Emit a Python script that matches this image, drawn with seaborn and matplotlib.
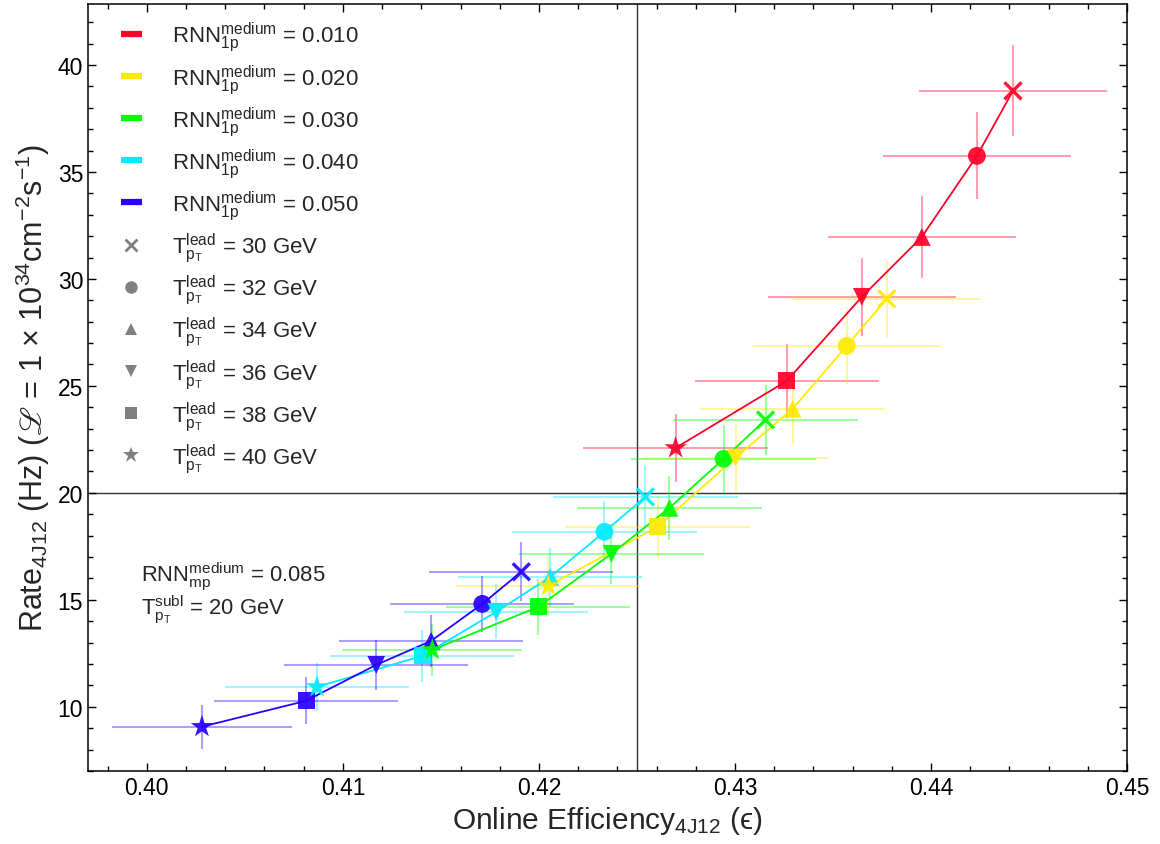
import numpy as np
import pandas as pd
import matplotlib
matplotlib.use("Agg")
import matplotlib.pyplot as plt
from matplotlib.lines import Line2D
from matplotlib.ticker import MultipleLocator, FormatStrFormatter
import seaborn as sns

# ---- data -------------------------------------------------------------
rnn_cuts = ["0.010", "0.020", "0.030", "0.040", "0.050"]
lead_pt = [30, 32, 34, 36, 38, 40]

eff_010 = [0.44418, 0.44234, 0.43953, 0.43647, 0.43264, 0.42697]
eff_020 = [0.43774, 0.43570, 0.43294, 0.43003, 0.42605, 0.42048]
eff_030 = [0.43156, 0.42942, 0.42666, 0.42370, 0.41997, 0.41456]
eff_040 = [0.42543, 0.42334, 0.42058, 0.41782, 0.41404, 0.40868]
eff_050 = [0.41910, 0.41711, 0.41450, 0.41170, 0.40812, 0.40281]

rate_010 = [38.79, 35.75, 31.96, 29.16, 25.23, 22.10]
rate_020 = [29.07, 26.87, 23.93, 21.64, 18.41, 15.65]
rate_030 = [23.41, 21.59, 19.30, 17.15, 14.67, 12.66]
rate_040 = [19.81, 18.18, 16.07, 14.44, 12.38, 10.93]
rate_050 = [16.31, 14.81, 13.08, 11.96, 10.28, 9.07]

eff_err_010 = [0.0048, 0.0048, 0.0048, 0.0048, 0.0047, 0.0047]
eff_err_020 = [0.0048, 0.0048, 0.0047, 0.0047, 0.0047, 0.0047]
eff_err_030 = [0.0047, 0.0047, 0.0047, 0.0047, 0.0047, 0.0046]
eff_err_040 = [0.0047, 0.0047, 0.0047, 0.0047, 0.0047, 0.0047]
eff_err_050 = [0.0047, 0.0047, 0.0047, 0.0047, 0.0047, 0.0046]

rate_err_010 = [2.12, 2.03, 1.92, 1.84, 1.71, 1.60]
rate_err_020 = [1.83, 1.76, 1.66, 1.58, 1.46, 1.35]
rate_err_030 = [1.65, 1.58, 1.49, 1.41, 1.30, 1.21]
rate_err_040 = [1.51, 1.45, 1.36, 1.29, 1.20, 1.12]
rate_err_050 = [1.37, 1.31, 1.23, 1.18, 1.09, 1.02]

effs = [eff_010, eff_020, eff_030, eff_040, eff_050]
rates = [rate_010, rate_020, rate_030, rate_040, rate_050]
eff_errs = [eff_err_010, eff_err_020, eff_err_030, eff_err_040, eff_err_050]
rate_errs = [rate_err_010, rate_err_020, rate_err_030, rate_err_040, rate_err_050]

rows = []
for cut, e, r, ee, re in zip(rnn_cuts, effs, rates, eff_errs, rate_errs):
    for pt, ei, ri, eei, rei in zip(lead_pt, e, r, ee, re):
        rows.append(dict(cut=cut, lead=pt, eff=ei, rate=ri, eff_err=eei, rate_err=rei))
df = pd.DataFrame(rows)

# ---- style ------------------------------------------------------------
sns.set_style("ticks")
plt.rcParams["font.family"] = ["Liberation Sans", "DejaVu Sans"]
plt.rcParams["mathtext.fontset"] = "custom"
plt.rcParams["mathtext.rm"] = "Liberation Sans"
plt.rcParams["mathtext.it"] = "Liberation Sans:italic"
plt.rcParams["mathtext.bf"] = "Liberation Sans:bold"
plt.rcParams["mathtext.sf"] = "Liberation Sans"
plt.rcParams["mathtext.fallback"] = "stix"

cmap = matplotlib.colormaps["gist_rainbow"]
colors = [cmap(i / 5) for i in range(5)]
palette = dict(zip(rnn_cuts, colors))
marker_map = {30: "x", 32: "o", 34: "^", 36: "v", 38: "s", 40: "*"}
marker_area = {32: 165, 34: 165, 36: 165, 38: 150, 40: 290}

fig, ax = plt.subplots(figsize=(11.6, 8.45), dpi=100)
fig.subplots_adjust(left=0.0759, right=0.9716, top=0.9941, bottom=0.0864)

# error bars
for cut in rnn_cuts:
    sub = df[df.cut == cut]
    ax.errorbar(sub.eff, sub.rate, xerr=sub.eff_err, yerr=sub.rate_err,
                fmt="none", ecolor=palette[cut], alpha=0.38, elinewidth=1.5,
                capsize=0, zorder=1)

# connecting lines
sns.lineplot(data=df, x="eff", y="rate", hue="cut", hue_order=rnn_cuts,
             palette=palette, sort=False, estimator=None, lw=1.3,
             legend=False, ax=ax, zorder=2)

# filled markers, one marker shape per lead-pT threshold
for pt in lead_pt[1:]:
    sub = df[df.lead == pt]
    sns.scatterplot(data=sub, x="eff", y="rate", hue="cut", hue_order=rnn_cuts,
                    palette=palette, marker=marker_map[pt], s=marker_area[pt],
                    linewidth=0, alpha=0.92, legend=False, ax=ax, zorder=3)
# line-art markers
crosses = df[df.lead == 30]
sns.scatterplot(data=crosses, x="eff", y="rate", hue="cut", hue_order=rnn_cuts,
                palette=palette, marker="x", s=150, linewidth=2.4,
                alpha=0.92, legend=False, ax=ax, zorder=3)

# reference lines
ax.axvline(0.425, color="#333333", lw=1.0, zorder=0.5)
ax.axhline(20, color="#333333", lw=1.0, zorder=0.5)

ax.set_xlim(0.397, 0.45)
ax.set_ylim(7.0, 42.85)
ax.xaxis.set_major_locator(MultipleLocator(0.01))
ax.xaxis.set_minor_locator(MultipleLocator(0.002))
ax.yaxis.set_major_locator(MultipleLocator(5))
ax.yaxis.set_minor_locator(MultipleLocator(1))
ax.xaxis.set_major_formatter(FormatStrFormatter("%.2f"))
ax.tick_params(which="both", direction="in", top=True, right=True,
               labelsize=16.5, width=1.0, colors="black")
ax.tick_params(which="major", length=6)
ax.tick_params(which="minor", length=3.5)
for sp in ax.spines.values():
    sp.set_linewidth(1.1)
    sp.set_color("black")

ax.set_xlabel(r"Online Efficiency$_{\mathrm{4J12}}$ ($\mathrm{ϵ}$)", fontsize=21.5)
ax.set_ylabel(r"Rate$_{\mathrm{4J12}}$ (Hz) ($ℒ$ = 1 × 10$^{\mathrm{34}}$cm$^{\mathrm{-2}}$s$^{\mathrm{-1}}$)",
              fontsize=22)

# legend
handles, labels = [], []
for cut in rnn_cuts:
    handles.append(Line2D([0], [0], color=palette[cut], lw=4.5, solid_capstyle="butt"))
    labels.append(r"RNN$_{\mathrm{1p}}^{\mathrm{medium}}$ = " + cut)
legend_ms = {30: 8, 32: 9, 34: 9, 36: 9, 38: 9, 40: 12}
for pt in lead_pt:
    m = marker_map[pt]
    if m == "x":
        h = Line2D([0], [0], ls="none", marker=m, color="#808080", ms=legend_ms[pt], mew=2)
    else:
        h = Line2D([0], [0], ls="none", marker=m, color="#808080", ms=legend_ms[pt], mew=0)
    handles.append(h)
    labels.append(r"T$_{\mathrm{p_T}}^{\mathrm{lead}}$ = %d GeV" % pt)
ax.legend(handles, labels, loc="upper left", bbox_to_anchor=(0.023, 0.991),
          borderaxespad=0, frameon=False, fontsize=16, handlelength=0.95,
          handletextpad=1.35, labelspacing=0.38)

ax.text(0.051, 0.254, r"RNN$_{\mathrm{mp}}^{\mathrm{medium}}$ = 0.085",
        transform=ax.transAxes, fontsize=15.8, va="center", ha="left")
ax.text(0.051, 0.211, r"T$_{\mathrm{p_T}}^{\mathrm{subl}}$ = 20 GeV",
        transform=ax.transAxes, fontsize=15.8, va="center", ha="left")

fig.savefig("out.png", dpi=100)
